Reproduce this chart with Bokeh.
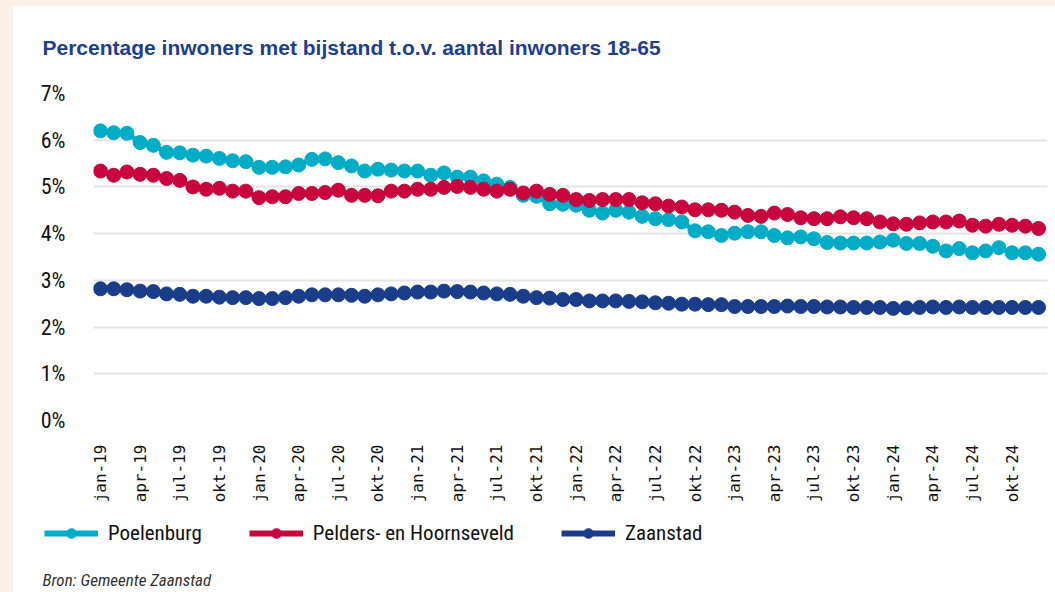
from math import pi
from bokeh.plotting import figure
from bokeh.layouts import column, row
from bokeh.models import (ColumnDataSource, FixedTicker, Legend, LegendItem, Label, Spacer)
from bokeh.embed import file_html
from bokeh.resources import INLINE

# ---------------- data ----------------
months = ["jan", "feb", "mrt", "apr", "mei", "jun", "jul", "aug", "sep", "okt", "nov", "dec"]
years = ["19", "20", "21", "22", "23", "24"]
month_labels = [f"{m}-{y}" for y in years for m in months]

poelenburg = [6.20, 6.16, 6.15, 5.95, 5.89, 5.74, 5.73, 5.68, 5.66, 5.61, 5.56, 5.54,
              5.42, 5.42, 5.43, 5.47, 5.59, 5.60, 5.52, 5.45, 5.34, 5.38, 5.36, 5.34,
              5.34, 5.25, 5.30, 5.21, 5.21, 5.13, 5.06, 4.99, 4.82, 4.80, 4.64, 4.63,
              4.61, 4.50, 4.44, 4.50, 4.46, 4.37, 4.32, 4.30, 4.25, 4.06, 4.04, 3.96,
              4.01, 4.04, 4.04, 3.96, 3.91, 3.93, 3.89, 3.81, 3.80, 3.80, 3.80, 3.82,
              3.86, 3.79, 3.79, 3.73, 3.63, 3.68, 3.59, 3.63, 3.70, 3.59, 3.59, 3.56]
pelders = [5.34, 5.25, 5.32, 5.27, 5.25, 5.18, 5.14, 5.00, 4.95, 4.97, 4.91, 4.91,
           4.77, 4.79, 4.79, 4.86, 4.86, 4.88, 4.93, 4.82, 4.82, 4.81, 4.91, 4.91,
           4.95, 4.95, 4.99, 5.01, 4.99, 4.95, 4.91, 4.95, 4.87, 4.91, 4.84, 4.82,
           4.73, 4.71, 4.73, 4.73, 4.73, 4.66, 4.64, 4.59, 4.57, 4.51, 4.51, 4.50,
           4.46, 4.39, 4.37, 4.44, 4.41, 4.34, 4.32, 4.32, 4.36, 4.34, 4.32, 4.25,
           4.21, 4.20, 4.23, 4.25, 4.25, 4.27, 4.18, 4.16, 4.20, 4.18, 4.16, 4.11]
zaanstad = [2.82, 2.82, 2.80, 2.77, 2.76, 2.71, 2.70, 2.66, 2.66, 2.64, 2.63, 2.63,
            2.61, 2.61, 2.63, 2.66, 2.69, 2.69, 2.69, 2.68, 2.66, 2.69, 2.71, 2.73,
            2.75, 2.75, 2.77, 2.76, 2.75, 2.73, 2.71, 2.70, 2.66, 2.63, 2.62, 2.59,
            2.59, 2.56, 2.56, 2.56, 2.55, 2.54, 2.52, 2.51, 2.49, 2.49, 2.48, 2.48,
            2.44, 2.44, 2.44, 2.44, 2.45, 2.44, 2.44, 2.43, 2.43, 2.42, 2.42, 2.42,
            2.40, 2.41, 2.42, 2.43, 2.42, 2.43, 2.42, 2.42, 2.42, 2.42, 2.42, 2.42]

series_keys = ["poelenburg", "pelders", "zaanstad"]
series_names = ["Poelenburg", "Pelders- en Hoornseveld", "Zaanstad"]
series_colors = ["#00acc6", "#c8053c", "#1a3d8a"]
y_ticks = [0, 1, 2, 3, 4, 5, 6, 7]
y_tick_labels = ["0%", "1%", "2%", "3%", "4%", "5%", "6%", "7%"]

title_text = "Percentage inwoners met bijstand t.o.v. aantal inwoners 18-65"
source_text = "Bron: Gemeente Zaanstad"

NARROW = "Liberation Sans Narrow, Roboto Condensed, Arial Narrow, sans-serif"
PEACH = "#fcefe6"
W = 1042  # width of the white card


def strip(height):
    f = figure(width=W, height=height, output_backend="svg", toolbar_location=None,
               x_range=(0, 1), y_range=(0, 1), x_axis_location=None, y_axis_location=None,
               min_border_left=0, min_border_right=0, min_border_top=0, min_border_bottom=0,
               background_fill_color="white", border_fill_color="white",
               outline_line_color=None)
    f.xgrid.visible = False
    f.ygrid.visible = False
    f.frame_align = False
    return f


src = ColumnDataSource(data=dict(x=list(range(len(month_labels))),
                                 poelenburg=poelenburg, pelders=pelders, zaanstad=zaanstad))

# ---------------- title strip ----------------
top = strip(64)
top.add_layout(Label(x=29, y=23, x_units="screen", y_units="screen", text=title_text,
                     text_font="Liberation Sans, Arial, sans-serif", text_font_size="21px",
                     text_font_style="bold", text_color="#1d3f8c", text_baseline="alphabetic"))

# ---------------- main chart ----------------
p = figure(width=W, height=442, output_backend="svg", toolbar_location=None,
           x_range=(-0.53, 71.68), y_range=(0, 7),
           min_border_left=80, min_border_right=8, min_border_top=23, min_border_bottom=92,
           background_fill_color="white", border_fill_color="white",
           outline_line_color=None)
p.frame_align = False

for key, col in zip(series_keys, series_colors):
    p.line("x", key, source=src, line_color=col, line_width=5)
    p.scatter("x", key, source=src, size=14, fill_color=col, line_color=col)

p.yaxis.ticker = FixedTicker(ticks=y_ticks)
p.yaxis.major_label_overrides = {t: l for t, l in zip(y_ticks, y_tick_labels)}
p.yaxis.axis_line_color = None
p.yaxis.major_tick_line_color = None
p.yaxis.minor_tick_line_color = None
p.yaxis.major_label_standoff = 22
p.yaxis.major_label_text_font = NARROW
p.yaxis.major_label_text_font_size = "22px"
p.yaxis.major_label_text_color = "#111111"

p.xaxis.ticker = FixedTicker(ticks=list(range(0, 72, 3)))
p.xaxis.major_label_overrides = {i: month_labels[i] for i in range(0, 72, 3)}
p.xaxis.major_label_orientation = pi / 2
p.xaxis.axis_line_color = None
p.xaxis.major_tick_line_color = None
p.xaxis.minor_tick_line_color = None
p.xaxis.major_label_standoff = 18
p.xaxis.major_label_text_font = "DejaVu Sans Mono"
p.xaxis.major_label_text_font_size = "16px"
p.xaxis.major_label_text_color = "#111111"

p.xgrid.grid_line_color = None
p.ygrid.grid_line_color = "#e4e4e4"
p.ygrid.grid_line_width = 2

# ---------------- legend + source strip ----------------
leg = strip(80)
items = []
for key, name, col in zip(series_keys, series_names, series_colors):
    # same series, outside this strip's ranges: only their legend glyphs show
    ln = leg.line("x", key, source=src, line_color=col, line_width=6)
    sc = leg.scatter("x", key, source=src, size=11, fill_color=col, line_color=col)
    items.append(LegendItem(label=name, renderers=[ln, sc]))

legend = Legend(items=items, orientation="horizontal", location=(31, 47),
                label_text_font=NARROW, label_text_font_size="21px",
                label_text_color="#111111", glyph_width=54, glyph_height=24,
                label_standoff=10, spacing=47, padding=0, margin=0,
                border_line_color=None, background_fill_alpha=0)
leg.add_layout(legend)

leg.add_layout(Label(x=29, y=13, x_units="screen", y_units="screen", text=source_text,
                     text_font=NARROW, text_font_size="17px", text_font_style="italic",
                     text_color="#333333", text_baseline="alphabetic"))

card = column(top, p, leg, spacing=0)
left_band = Spacer(width=13, height=586, styles={"background-color": PEACH})
top_band = Spacer(width=1055, height=6, styles={"background-color": PEACH})
layout = column(top_band, row(left_band, card, spacing=0), spacing=0)

open("out.html", "w").write(file_html(layout, INLINE))
